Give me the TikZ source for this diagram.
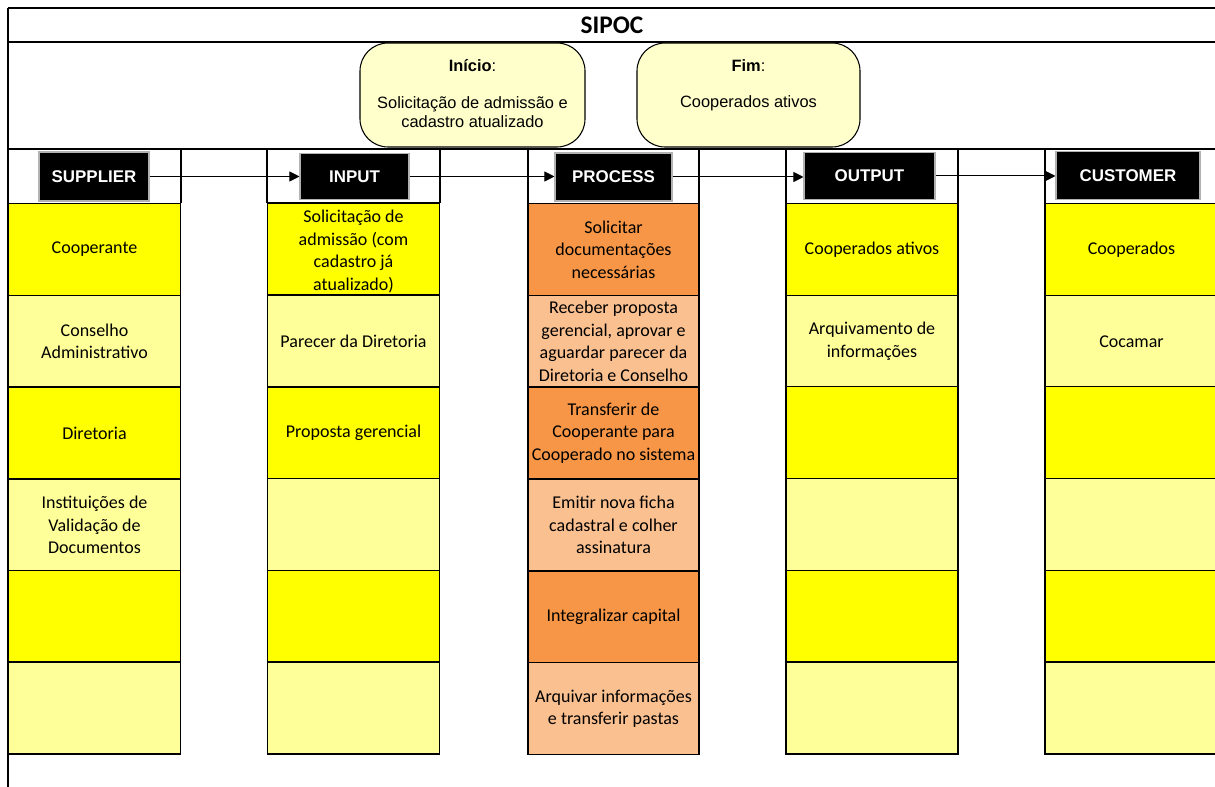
\documentclass[tikz,border=0pt]{standalone}
\usepackage{fontspec}
\setmainfont{Liberation Sans}
\newfontfamily\calibri{Carlito}
\usetikzlibrary{arrows.meta}

\definecolor{yelA}{HTML}{FFFF00}
\definecolor{yelB}{HTML}{FFFF99}
\definecolor{orgA}{HTML}{F79646}
\definecolor{orgB}{HTML}{FAC090}
\definecolor{termfill}{HTML}{FFFFCC}

\begin{document}
\begin{tikzpicture}[x=0.75pt,y=-0.75pt,
  frame/.style={line width=1.2pt},
  cell/.style={draw, line width=1.2pt, minimum width=129pt, minimum height=68.875pt,
    inner sep=0pt, align=center, font=\calibri\fontsize{13.5pt}{17pt}\selectfont},
  ya/.style={cell, fill=yelA},
  yb/.style={cell, fill=yelB},
  oa/.style={cell, fill=orgA, minimum width=128.25pt},
  ob/.style={cell, fill=orgB, minimum width=128.25pt},
  wide/.style={minimum width=135pt},
  celltext/.style={font=\calibri\fontsize{13.5pt}{17pt}\selectfont, inner sep=0pt, align=center},
  head/.style={fill=black, draw=gray!60, line width=0.8pt, text=white, inner sep=0pt,
    font=\bfseries\fontsize{12.7pt}{15pt}\selectfont},
  term/.style={draw, line width=0.8pt, fill=termfill, rounded corners=21pt, inner sep=0pt},
  termtext/.style={align=center, inner sep=0pt, font=\fontsize{12.3pt}{14.25pt}\selectfont},
  flow/.style={line width=0.75pt, -{Triangle[length=7.5pt,width=7.5pt]}}
]
\useasboundingbox (0,0) rectangle (1215,787);
\clip (0,0) rectangle (1215,787);

% outer frame and row separators
\draw[frame] (8,8) -- (1230,8);
\draw[frame] (8,42) -- (1230,42);
\draw[frame] (8,149) -- (1230,149);
\draw[frame] (8,8) -- (8,790);
% column separators of the header row
\foreach \x in {181,267,440,528,699,786,958,1045}
  \draw[frame] (\x,149) -- (\x,203);

% title
\node[font=\calibri\bfseries\fontsize{19pt}{22pt}\selectfont] (title) at (612,25.5) {SIPOC};

% start and end terminals
\node[term, minimum width=168.75pt, minimum height=78pt] (ini) at (472.5,95) {};
\node[termtext] (ini-h) at (472.5,66) {\textbf{Início}:};
\node[termtext] (ini-b) at (472.5,112.5) {Solicitação de admissão e\\cadastro atualizado};
\node[term, minimum width=167.25pt, minimum height=78pt] (fim) at (748.5,95) {};
\node[termtext] (fim-h) at (748.5,66) {\textbf{Fim}:};
\node[termtext] (fim-b) at (748.5,103) {Cooperados ativos};

% column headers
\node[head, minimum width=82.5pt, minimum height=36.75pt] (hs) at (94,176.5) {SUPPLIER};
\node[head, minimum width=81.75pt, minimum height=34.5pt] (hi) at (354.5,176.5) {INPUT};
\node[head, minimum width=87.75pt, minimum height=36pt] (hp) at (613.5,177) {PROCESS};
\node[head, minimum width=98.25pt, minimum height=35.25pt] (ho) at (869.5,176) {OUTPUT};
\node[head, minimum width=108pt, minimum height=36pt] (hc) at (1128,175.5) {CUSTOMER};

\draw[flow] (hs.east) -- (hs.east -| hi.west);
\draw[flow] (hi.east) -- (hi.east -| hp.west);
\draw[flow] (hp.east) -- (hp.east -| ho.west);
\draw[flow] (ho.east) -- (ho.east -| hc.west);

% SUPPLIER column
\node[ya] (s1) at (94.5,249.5) {Cooperante};
\node[yb] (s2) at (94.5,341.3) {Conselho\\Administrativo};
\node[ya] (s3) at (94.5,433.1) {Diretoria};
\node[yb] (s4) at (94.5,524.9) {Instituições de\\Validação de\\Documentos};
\node[ya] (s5) at (94.5,616.25) {};
\node[yb] (s6) at (94.5,708.1) {};

% INPUT column
\node[ya] (i1) at (353.5,248.9) {};
\node[celltext] (i1-t) at (353.5,251.5) {Solicitação de\\admissão (com\\cadastro já\\atualizado)};
\node[yb] (i2) at (353.5,341.3) {Parecer da Diretoria};
\node[ya] (i3) at (353.5,433.1) {Proposta gerencial};
\node[yb] (i4) at (353.5,524.4) {};
\node[ya] (i5) at (353.5,616.25) {};
\node[yb] (i6) at (353.5,708.1) {};

% PROCESS column
\node[oa] (p1) at (613.5,249.5) {Solicitar\\documentações\\necessárias};
\node[ob] (p2) at (613.5,341.3) {Receber proposta\\gerencial, aprovar e\\aguardar parecer da\\Diretoria e Conselho};
\node[oa] (p3) at (613.5,433.1) {Transferir de\\Cooperante para\\Cooperado no sistema};
\node[ob] (p4) at (613.5,524.9) {Emitir nova ficha\\cadastral e colher\\assinatura};
\node[oa] (p5) at (613.5,616.8) {Integralizar capital};
\node[ob] (p6) at (613.5,708.6) {Arquivar informações\\e transferir pastas};

% OUTPUT column
\node[ya] (o1) at (872,249.5) {Cooperados ativos};
\node[yb] (o2) at (872,341.3) {Arquivamento de\\informações};
\node[ya] (o3) at (872,432.6) {};
\node[yb] (o4) at (872,524.4) {};
\node[ya] (o5) at (872,616.25) {};
\node[yb] (o6) at (872,708.1) {};

% CUSTOMER column (runs past the right edge)
\node[ya, wide] (c1) at (1135,249.5) {};
\node[yb, wide] (c2) at (1135,341.3) {};
\node[ya, wide] (c3) at (1135,432.6) {};
\node[yb, wide] (c4) at (1135,524.4) {};
\node[ya, wide] (c5) at (1135,616.25) {};
\node[yb, wide] (c6) at (1135,708.1) {};
\node[celltext] (c1-t) at (1131.5,249.5) {Cooperados};
\node[celltext] (c2-t) at (1131.5,341.3) {Cocamar};
\end{tikzpicture}
\end{document}
